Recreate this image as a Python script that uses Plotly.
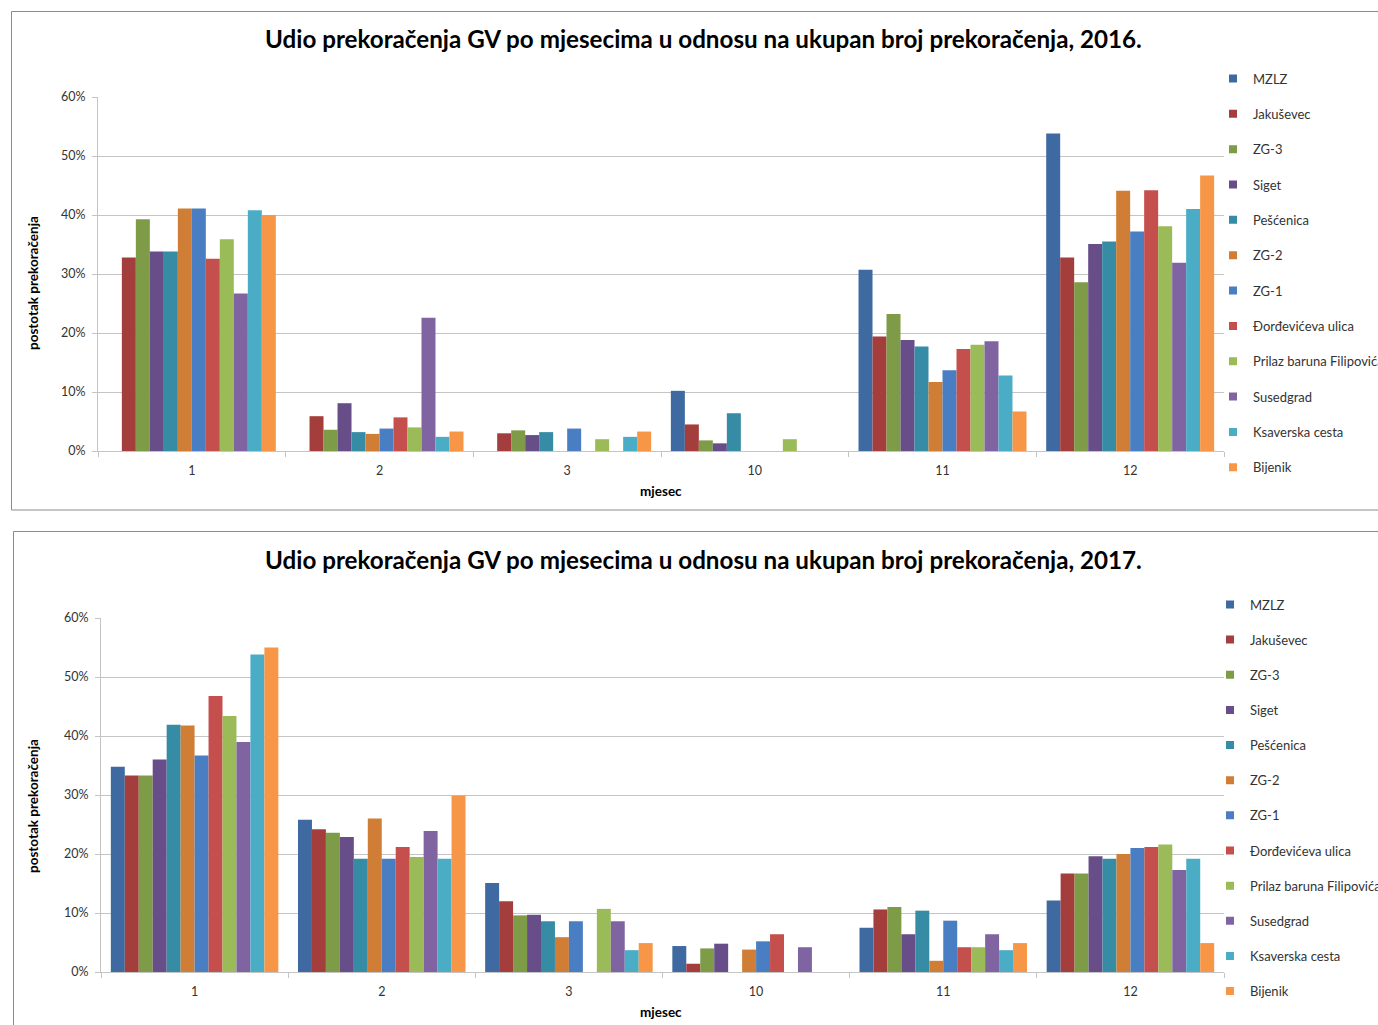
import plotly.graph_objects as go

# Months with exceedances (x-axis categories)
months = ["1", "2", "3", "10", "11", "12"]

stations = [
    "MZLZ", "Jakuševec", "ZG-3", "Siget", "Pešćenica", "ZG-2", "ZG-1",
    "Đorđevićeva ulica", "Prilaz baruna Filipovića", "Susedgrad",
    "Ksaverska cesta", "Bijenik",
]

# Share of exceedances per month (fraction of the yearly total), 2016
mzlz_2016 = [0.0, 0.0, 0.0, 0.102, 0.307, 0.538]
jakusevec_2016 = [0.328, 0.059, 0.030, 0.045, 0.194, 0.328]
zg3_2016 = [0.393, 0.036, 0.035, 0.018, 0.232, 0.286]
siget_2016 = [0.338, 0.081, 0.027, 0.013, 0.188, 0.351]
pescenica_2016 = [0.338, 0.032, 0.032, 0.064, 0.177, 0.355]
zg2_2016 = [0.411, 0.029, 0.0, 0.0, 0.117, 0.441]
zg1_2016 = [0.411, 0.038, 0.038, 0.0, 0.137, 0.372]
dordjeviceva_2016 = [0.326, 0.057, 0.0, 0.0, 0.173, 0.442]
prilaz_2016 = [0.359, 0.040, 0.020, 0.020, 0.180, 0.381]
susedgrad_2016 = [0.267, 0.226, 0.0, 0.0, 0.186, 0.319]
ksaverska_2016 = [0.408, 0.024, 0.024, 0.0, 0.128, 0.410]
bijenik_2016 = [0.400, 0.033, 0.033, 0.0, 0.067, 0.467]

# Share of exceedances per month (fraction of the yearly total), 2017
mzlz_2017 = [0.348, 0.258, 0.151, 0.044, 0.075, 0.121]
jakusevec_2017 = [0.333, 0.242, 0.120, 0.014, 0.106, 0.167]
zg3_2017 = [0.333, 0.236, 0.096, 0.040, 0.110, 0.167]
siget_2017 = [0.360, 0.229, 0.097, 0.048, 0.064, 0.196]
pescenica_2017 = [0.419, 0.192, 0.086, 0.0, 0.104, 0.192]
zg2_2017 = [0.418, 0.260, 0.059, 0.038, 0.019, 0.200]
zg1_2017 = [0.367, 0.192, 0.086, 0.052, 0.087, 0.210]
dordjeviceva_2017 = [0.468, 0.212, 0.0, 0.064, 0.042, 0.212]
prilaz_2017 = [0.434, 0.195, 0.107, 0.0, 0.042, 0.216]
susedgrad_2017 = [0.390, 0.239, 0.086, 0.042, 0.064, 0.173]
ksaverska_2017 = [0.538, 0.192, 0.037, 0.0, 0.037, 0.192]
bijenik_2017 = [0.550, 0.299, 0.049, 0.0, 0.049, 0.049]

series_2016 = [mzlz_2016, jakusevec_2016, zg3_2016, siget_2016, pescenica_2016,
               zg2_2016, zg1_2016, dordjeviceva_2016, prilaz_2016,
               susedgrad_2016, ksaverska_2016, bijenik_2016]
series_2017 = [mzlz_2017, jakusevec_2017, zg3_2017, siget_2017, pescenica_2017,
               zg2_2017, zg1_2017, dordjeviceva_2017, prilaz_2017,
               susedgrad_2017, ksaverska_2017, bijenik_2017]

colors = ["#3E6AA1", "#A33E3C", "#7E9B48", "#684E89", "#378CA5", "#D07E36",
          "#4A7EC2", "#C44F4D", "#9BBB59", "#8064A2", "#4BACC6", "#F79646"]

W, H = 1378, 1025
FONT = "Lato, Carlito, Calibri, sans-serif"


def px_x(v):
    return v / W


def px_y(v):
    return 1 - v / H


fig = go.Figure()

panels = [("x", "y", "legend", "16", series_2016),
          ("x2", "y2", "legend2", "17", series_2017)]
for xa, ya, leg, tag, series in panels:
    for name, vals, col in zip(stations, series, colors):
        # bars
        fig.add_trace(go.Bar(
            x=months, y=vals, name=name, marker_color=col,
            marker_line_width=0, xaxis=xa, yaxis=ya, showlegend=False,
            legendgroup=name + tag,
        ))
        # small square legend key for the same series
        fig.add_trace(go.Scatter(
            x=[None], y=[None], mode="markers", name=name,
            marker=dict(symbol="square", size=8, color=col),
            xaxis=xa, yaxis=ya, legend=leg, legendgroup=name + tag,
            showlegend=True, hoverinfo="skip",
        ))

grid = "#C4C4C4"
axis_common_y = dict(
    range=[0, 0.6], dtick=0.1, tickformat=".0%", showgrid=True, gridcolor=grid,
    gridwidth=1, showline=True, linecolor=grid, ticks="outside", ticklen=5,
    tickcolor=grid, tickfont=dict(family=FONT, size=12.5, color="#333333"),
    zeroline=False, fixedrange=True, ticklabelstandoff=4,
)
axis_common_x = dict(
    type="category", showline=True, linecolor=grid, ticks="outside",
    tickson="boundaries", ticklen=5, tickcolor=grid, showgrid=False,
    tickfont=dict(family=FONT, size=12.5, color="#333333"), fixedrange=True,
    ticklabelstandoff=8,
)

legend_common = dict(
    font=dict(family=FONT, size=13, color="#333333"),
    bgcolor="rgba(0,0,0,0)", traceorder="grouped",
    itemwidth=30, xanchor="left", yanchor="top",
)

fig.update_layout(
    width=W, height=H,
    margin=dict(l=0, r=0, t=0, b=0, autoexpand=False),
    paper_bgcolor="white", plot_bgcolor="white",
    barmode="group", bargap=0.105, bargroupgap=0,
    font=dict(family=FONT),
    xaxis=dict(domain=[px_x(98), px_x(1224)], anchor="y", **axis_common_x),
    yaxis=dict(domain=[px_y(451), px_y(97)], anchor="x", **axis_common_y),
    xaxis2=dict(domain=[px_x(101), px_x(1224)], anchor="y2", **axis_common_x),
    yaxis2=dict(domain=[px_y(972), px_y(618)], anchor="x2", **axis_common_y),
    legend=dict(x=px_x(1213), y=px_y(63.5), tracegroupgap=15.45,
                **legend_common),
    legend2=dict(x=px_x(1210), y=px_y(589.5), tracegroupgap=15.25,
                 **legend_common),
    showlegend=True,
)

# chart frames
fig.add_shape(type="rect", xref="paper", yref="paper",
              x0=px_x(11.5), x1=1.02, y0=px_y(510), y1=px_y(11.5),
              line=dict(color="#8C8C8C", width=1), layer="below")
fig.add_shape(type="rect", xref="paper", yref="paper",
              x0=px_x(13.5), x1=1.02, y0=-0.02, y1=px_y(531.5),
              line=dict(color="#8C8C8C", width=1), layer="below")

titles = [
    ("Udio prekoračenja GV po mjesecima u odnosu na ukupan broj prekoračenja, 2016.", 38, 703),
    ("Udio prekoračenja GV po mjesecima u odnosu na ukupan broj prekoračenja, 2017.", 559, 703),
]
for text, y, x in titles:
    fig.add_annotation(text="<b>%s</b>" % text, xref="paper", yref="paper",
                       x=px_x(x), y=px_y(y), showarrow=False,
                       font=dict(family=FONT, size=24.2, color="#000000"),
                       xanchor="center", yanchor="middle")

for y in (283, 806):
    fig.add_annotation(text="<b>postotak prekoračenja</b>", xref="paper",
                       yref="paper", x=px_x(33), y=px_y(y), textangle=-90,
                       showarrow=False, xanchor="center", yanchor="middle",
                       font=dict(family=FONT, size=13.5, color="#000000"))
for y, x in ((491, 661), (1012, 661)):
    fig.add_annotation(text="<b>mjesec</b>", xref="paper", yref="paper",
                       x=px_x(x), y=px_y(y), showarrow=False,
                       xanchor="center", yanchor="middle",
                       font=dict(family=FONT, size=13.5, color="#000000"))

fig.write_html("out.html")
